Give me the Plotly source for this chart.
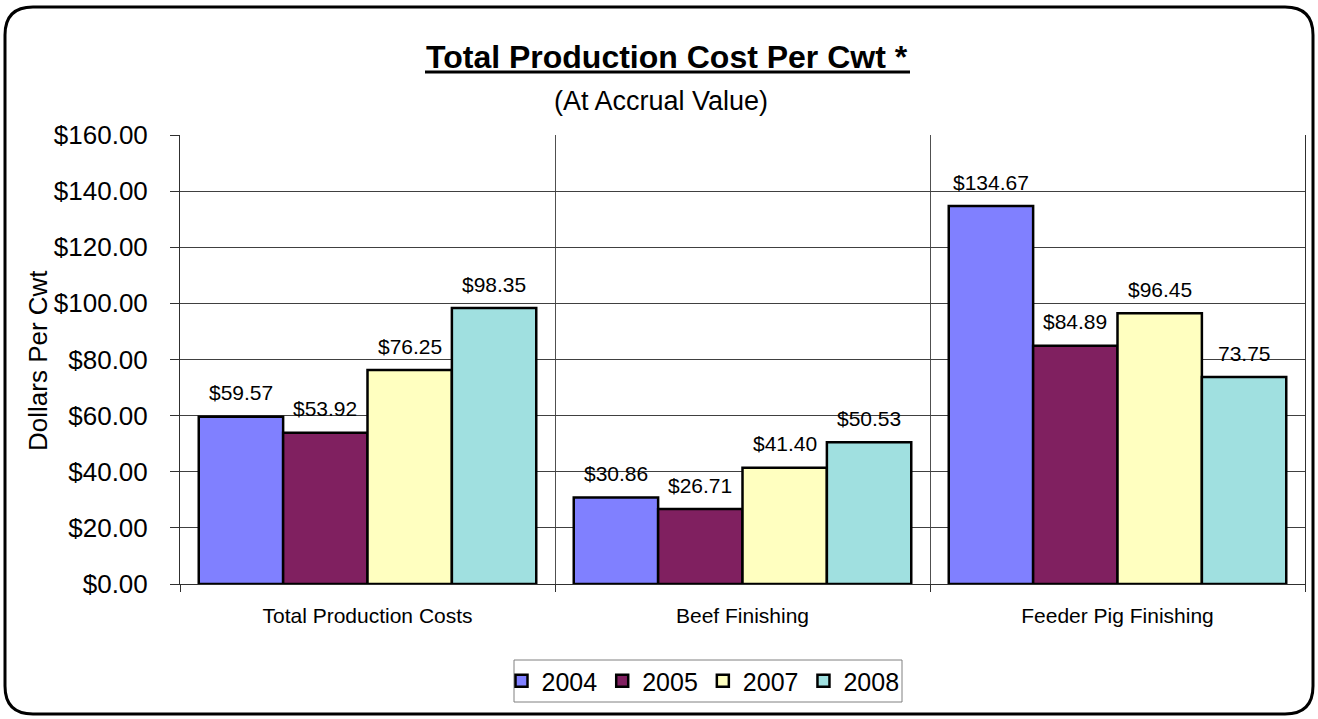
import plotly.graph_objects as go

# ---- data ----
categories = ["Total Production Costs", "Beef Finishing", "Feeder Pig Finishing"]
years = ["2004", "2005", "2007", "2008"]
cost_2004 = [59.57, 30.86, 134.67]
cost_2005 = [53.92, 26.71, 84.89]
cost_2007 = [76.25, 41.40, 96.45]
cost_2008 = [98.35, 50.53, 73.75]
series = [cost_2004, cost_2005, cost_2007, cost_2008]
# value labels that are printed without a currency sign
plain_labels = [("2008", "Feeder Pig Finishing")]
y_tick_values = [0, 20, 40, 60, 80, 100, 120, 140, 160]

colors = ["#8080FF", "#802060", "#FFFFC0", "#A0E0E0"]
FONT = "Liberation Sans, Arial, sans-serif"

W, H = 1318, 719
L, R, T, B = 180, 1305, 135, 584  # plot area in pixels


def px(x):
    return (x - L) / (R - L)


def py(y):
    return (B - y) / (B - T)


BARGAP = 0.1
bar_w = (1 - BARGAP) / len(years)

fig = go.Figure()
for yr, vals, col in zip(years, series, colors):
    fig.add_trace(go.Bar(
        x=categories, y=vals, name=yr,
        marker=dict(color=col, line=dict(color="black", width=2.5)),
    ))

annotations = []
for j, (yr, vals) in enumerate(zip(years, series)):
    for i, (cat, v) in enumerate(zip(categories, vals)):
        label = f"{v:.2f}" if (yr, cat) in plain_labels else f"${v:.2f}"
        annotations.append(dict(
            x=i - (1 - BARGAP) / 2 + (j + 0.5) * bar_w, y=v,
            xref="x", yref="y", text=label, showarrow=False,
            yanchor="middle", yshift=24,
            font=dict(family=FONT, size=21, color="black"),
        ))

# title, subtitle and y-axis title
annotations += [
    dict(x=px(667), y=py(57), xref="paper", yref="paper",
         text="<b>Total Production Cost Per Cwt *</b>", showarrow=False,
         xanchor="center", yanchor="middle",
         font=dict(family=FONT, size=32, color="black")),
    dict(x=px(661), y=py(101), xref="paper", yref="paper",
         text="(At Accrual Value)", showarrow=False,
         xanchor="center", yanchor="middle",
         font=dict(family=FONT, size=27, color="black")),
    dict(x=px(38), y=py(360), xref="paper", yref="paper",
         text="Dollars Per Cwt", showarrow=False, textangle=-90,
         xanchor="center", yanchor="middle",
         font=dict(family=FONT, size=26, color="black")),
]

# rounded outer frame
x0, x1, y0, y1, r = 5, 1313, 7, 714, 28
frame = (
    f"M {px(x0)},{py(y0 + r)} Q {px(x0)},{py(y0)} {px(x0 + r)},{py(y0)} "
    f"L {px(x1 - r)},{py(y0)} Q {px(x1)},{py(y0)} {px(x1)},{py(y0 + r)} "
    f"L {px(x1)},{py(y1 - r)} Q {px(x1)},{py(y1)} {px(x1 - r)},{py(y1)} "
    f"L {px(x0 + r)},{py(y1)} Q {px(x0)},{py(y1)} {px(x0)},{py(y1 - r)} Z"
)
shapes = [
    dict(type="path", path=frame, xref="paper", yref="paper",
         line=dict(color="black", width=3), layer="below"),
    # title underline
    dict(type="line", xref="paper", yref="paper",
         x0=px(425), x1=px(910), y0=py(72), y1=py(72),
         line=dict(color="black", width=3)),
    # legend box
    dict(type="rect", xref="paper", yref="paper",
         x0=px(514), x1=px(902), y0=py(660), y1=py(702),
         line=dict(color="#808080", width=1), layer="below"),
]

fig.update_layout(
    width=W, height=H,
    margin=dict(l=L, r=W - R, t=T, b=H - B, pad=0, autoexpand=False),
    paper_bgcolor="white", plot_bgcolor="white",
    barmode="group", bargap=BARGAP, bargroupgap=0,
    font=dict(family=FONT, color="black"),
    showlegend=True,
    legend=dict(
        orientation="h", x=703 / W, y=1 - 681 / H, xanchor="center", yanchor="middle",
        xref="container", yref="container",
        bgcolor="rgba(0,0,0,0)", borderwidth=0,
        font=dict(family=FONT, size=25, color="black"),
        itemwidth=30, traceorder="normal",
    ),
    annotations=annotations,
    shapes=shapes,
    xaxis=dict(
        range=[-0.5, 2.5], tickson="boundaries", automargin=False,
        showgrid=True, gridcolor="#505050", gridwidth=1,
        showline=True, linecolor="#303030", linewidth=1,
        ticks="outside", ticklen=7, tickcolor="#303030",
        tickfont=dict(family=FONT, size=21, color="black"),
        ticklabelstandoff=13,
    ),
    yaxis=dict(
        range=[0, 160], tickvals=y_tick_values, tickformat="$,.2f",
        automargin=False,
        showgrid=True, gridcolor="#404040", gridwidth=1,
        showline=True, linecolor="#303030", linewidth=1, mirror=True,
        ticks="outside", ticklen=9, tickcolor="#303030",
        tickfont=dict(family=FONT, size=26, color="black"),
        ticklabelstandoff=17, zeroline=False,
    ),
)

fig.write_html("out.html")
